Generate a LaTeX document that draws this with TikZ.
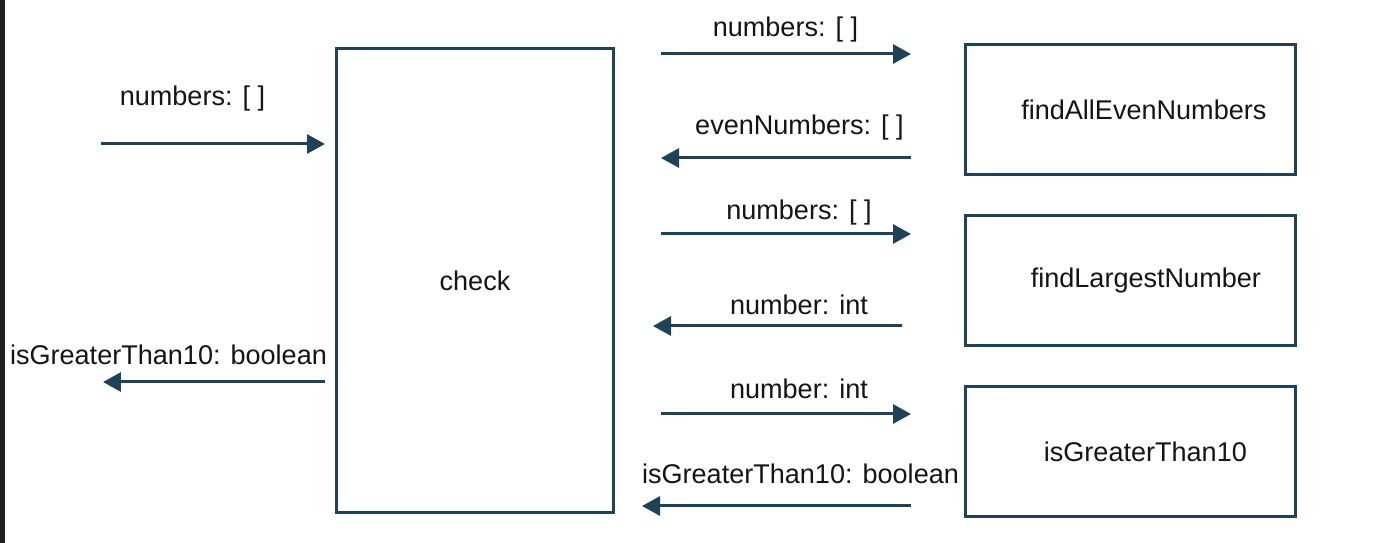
\documentclass[tikz,border=0pt]{standalone}
\usepackage{fontspec}
\setmainfont{Liberation Sans}
\usetikzlibrary{arrows.meta}
\usetikzlibrary{positioning}

\definecolor{ink}{HTML}{1F4257}
\definecolor{txt}{HTML}{151515}

\tikzset{
    fn/.style = {rectangle, draw = ink, line width = 0.06cm, fill = white, text = txt,
                 minimum width = 6.6cm, minimum height = 2.6cm},
    arr/.style = {draw = ink, line width = 0.06cm, -{Triangle[length = 0.36cm, width = 0.38cm]}},
    lbl/.style = {anchor = base, text = txt, inner sep = 0pt}
}

\begin{document}
\begin{tikzpicture}[x = 0.02cm, y = -0.02cm, font = \fontsize{15.4}{18}\selectfont]

    \useasboundingbox[fill = white] (0,0) rectangle (1373,543);
    \fill[black!88] (0,0) rectangle (5,543);

    \begin{scope}[on grid]
        % the caller and the three helpers
        \node (check) at (475,280.5) [fn, minimum width = 5.54cm, minimum height = 9.28cm] {check};
        \node (largest) [fn, right = 13.11cm of check] {\hspace*{0.62cm}findLargestNumber};
        \node (even) [fn, above = 3.42cm of largest] {\hspace*{0.54cm}findAllEvenNumbers};
        \node (greater) [fn, below = 3.42cm of largest] {\hspace*{0.6cm}isGreaterThan10};

        % free ends of the arrows
        \coordinate (inA) at (101,144);
        \coordinate (inB) at (325,144);
        \coordinate (outA) at (325,382);
        \coordinate (outB) at (103,382);

        \coordinate (r1a) at (661,54);
        \coordinate (r1b) at (911,54);
        \coordinate (r2a) at (911,158);
        \coordinate (r2b) at (661,158);
        \coordinate (r3a) at (661,234);
        \coordinate (r3b) at (911,234);
        \coordinate (r4a) at (902,326);
        \coordinate (r4b) at (653,326);
        \coordinate (r5a) at (661,414);
        \coordinate (r5b) at (911,414);
        \coordinate (r6a) at (911,506);
        \coordinate (r6b) at (642,506);

        \draw[arr] (inA) -- (inB);
        \draw[arr] (outA) -- (outB);
        \draw[arr] (r1a) -- (r1b);
        \draw[arr] (r2a) -- (r2b);
        \draw[arr] (r3a) -- (r3b);
        \draw[arr] (r4a) -- (r4b);
        \draw[arr] (r5a) -- (r5b);
        \draw[arr] (r6a) -- (r6b);

        \node (lin) at (192.5,106) [lbl] {numbers: [ ]};
        \node (lout) at (168.5,365) [lbl] {isGreaterThan10: boolean};
        \node (l1) at (785.5,37) [lbl] {numbers: [ ]};
        \node (l2) at (799.5,135) [lbl] {evenNumbers: [ ]};
        \node (l3) at (799,219.5) [lbl] {numbers: [ ]};
        \node (l4) at (799,314.5) [lbl] {number: int};
        \node (l5) at (799,399) [lbl] {number: int};
        \node (l6) at (800.5,484) [lbl] {isGreaterThan10: boolean};
    \end{scope}

\end{tikzpicture}
\end{document}
